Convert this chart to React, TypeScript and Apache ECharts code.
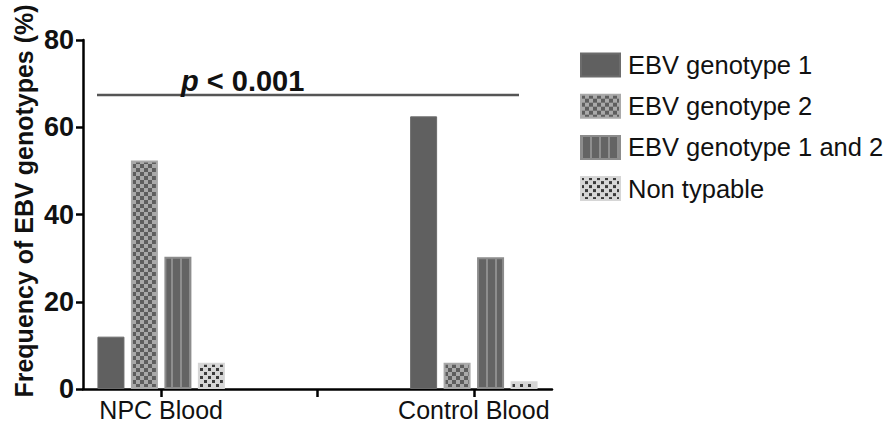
import React, { useEffect, useRef } from 'react';
import * as echarts from 'echarts';

const categories = ['NPC Blood', '', 'Control Blood'];
const seriesNames = ['EBV genotype 1', 'EBV genotype 2', 'EBV genotype 1 and 2', 'Non typable'];
const genotype1 = [12, null, 62.5];
const genotype2 = [52.4, null, 6];
const genotype12 = [30.3, null, 30.2];
const nonTypable = [6, null, 1.8];
const yMin = 0;
const yMax = 80;
const yInterval = 20;
const yAxisTitle = 'Frequency of EBV genotypes (%)';
const pValueLabel = 'p';
const pValueRest = ' < 0.001';
const pLineValue = 67.4;

const FONT = '"Liberation Sans", Arial, sans-serif';
const BAR_W = 27;
const BAR_GAP = 0.24;

function makePattern(w: number, h: number, draw: (ctx: CanvasRenderingContext2D) => void) {
  const c = document.createElement('canvas');
  c.width = w;
  c.height = h;
  const ctx = c.getContext('2d') as CanvasRenderingContext2D;
  draw(ctx);
  return (x = 0, y = 0) => ({ image: c, repeat: 'repeat', imageWidth: w, imageHeight: h, x, y } as any);
}

export default function App() {
  const ref = useRef<HTMLDivElement>(null);
  useEffect(() => {
    if (!ref.current) return;
    const chart = echarts.init(ref.current, null, { renderer: 'svg' });

    const checker = makePattern(8, 8, (ctx) => {
      ctx.fillStyle = '#a9a9a9';
      ctx.fillRect(0, 0, 8, 8);
      ctx.fillStyle = '#5e5e5e';
      ctx.fillRect(0, 0, 4, 4);
      ctx.fillRect(4, 4, 4, 4);
    });
    const stripes = makePattern(9, 8, (ctx) => {
      ctx.fillStyle = '#646464';
      ctx.fillRect(0, 0, 9, 8);
      ctx.fillStyle = '#8e8e8e';
      ctx.fillRect(0, 0, 2, 8);
    });
    const dice = makePattern(8, 8, (ctx) => {
      ctx.fillStyle = '#d6d6d6';
      ctx.fillRect(0, 0, 8, 8);
      ctx.fillStyle = '#3a3a3a';
      ctx.fillRect(0, 0, 3, 3);
      ctx.fillRect(4, 4, 3, 3);
    });

    const styles = [
      { color: '#606060', borderColor: '#6c6c6c', borderWidth: 1 },
      { color: checker(), borderColor: '#a9a9a9', borderWidth: 2 },
      { color: stripes(), borderColor: '#8c8c8c', borderWidth: 2 },
      { color: dice(), borderColor: '#d6d6d6', borderWidth: 2 },
    ];
    const datas = [genotype1, genotype2, genotype12, nonTypable];

    const baseOption: any = {
      animation: false,
      grid: { left: 83, right: 341, top: 40, bottom: 39, containLabel: false },
      legend: {
        orient: 'vertical',
        left: 580,
        top: 52,
        padding: 0,
        icon: 'rect',
        itemWidth: 39,
        itemHeight: 23,
        itemGap: 15.2,
        data: seriesNames,
        textStyle: { fontFamily: FONT, fontSize: 25.5, color: '#111', padding: [0, 0, 0, 3] },
      },
      xAxis: {
        type: 'category',
        data: categories,
        axisLine: { show: true, lineStyle: { color: '#000', width: 2.5 } },
        axisTick: { show: true, alignWithLabel: true, length: 8, lineStyle: { color: '#000', width: 2.5 } },
        axisLabel: { fontFamily: FONT, fontSize: 25, color: '#111', margin: 8, interval: 0 },
        splitLine: { show: false },
      },
      yAxis: {
        type: 'value',
        min: yMin,
        max: yMax,
        interval: yInterval,
        axisLine: { show: true, lineStyle: { color: '#000', width: 2.5 } },
        axisTick: { show: true, length: 7, lineStyle: { color: '#000', width: 2.5 } },
        axisLabel: { fontFamily: FONT, fontSize: 27, fontWeight: 'bold', color: '#111', margin: 9 },
        splitLine: { show: false },
      },
      series: seriesNames.map((name, i) => ({
        name,
        type: 'bar',
        data: datas[i],
        barWidth: BAR_W,
        barGap: BAR_GAP * 100 + '%',
        itemStyle: styles[i],
        emphasis: { disabled: true },
      })),
    };
    chart.setOption(baseOption);

    // align the stripe pattern phase with each striped bar
    const step = BAR_W * (1 + BAR_GAP);
    const total = BAR_W * 4 + BAR_W * BAR_GAP * 3;
    const stripedData = genotype12.map((v, ci) => {
      if (v == null) return v;
      const cx = chart.convertToPixel({ xAxisIndex: 0 }, categories[ci] || ci) as number;
      const barX = cx - total / 2 + 2 * step;
      return { value: v, itemStyle: { color: stripes(barX + 8, 0) } };
    });

    const yLine = chart.convertToPixel({ yAxisIndex: 0 }, pLineValue) as number;

    chart.setOption({
      series: [{}, {}, { data: stripedData }, {}],
      graphic: [
        {
          type: 'text',
          x: 24,
          y: 201,
          rotation: Math.PI / 2,
          style: {
            text: yAxisTitle,
            fontFamily: FONT,
            fontSize: 25,
            fontWeight: 'bold',
            fill: '#111',
            align: 'center',
            verticalAlign: 'middle',
          },
        },
        {
          type: 'line',
          shape: { x1: 97, y1: yLine, x2: 519, y2: yLine },
          style: { stroke: '#555', lineWidth: 2.5 },
        },
        {
          type: 'text',
          x: 181,
          y: 81,
          style: {
            text: '{p|' + pValueLabel + '}{r|' + pValueRest + '}',
            align: 'left',
            verticalAlign: 'middle',
            rich: {
              p: { fontFamily: FONT, fontSize: 29, fontWeight: 'bold', fontStyle: 'italic', fill: '#111' },
              r: { fontFamily: FONT, fontSize: 29, fontWeight: 'bold', fill: '#111' },
            },
          },
        },
      ],
    });

    return () => chart.dispose();
  }, []);

  return (
    <div
      ref={ref}
      style={{ position: 'absolute', left: 0, top: 0, width: 893, height: 428, background: '#fff' }}
    />
  );
}
